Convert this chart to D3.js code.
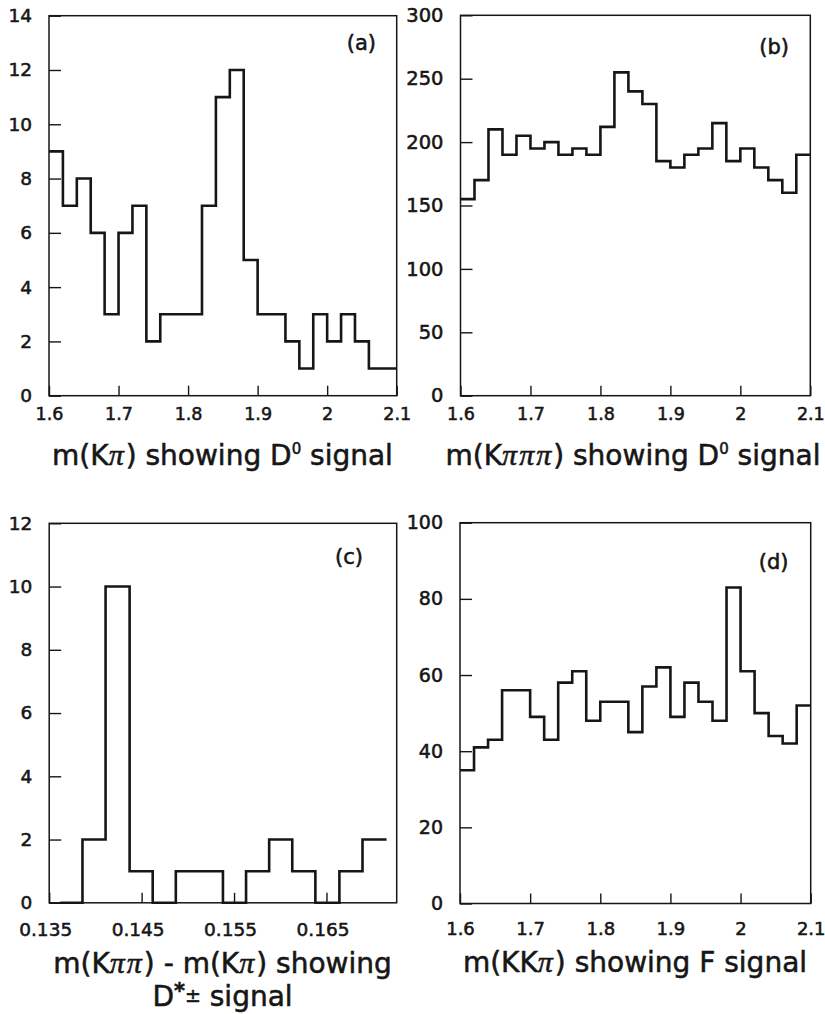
<!DOCTYPE html>
<html><head><meta charset="utf-8">
<script src="https://cdn.jsdelivr.net/npm/d3@7"></script>
<style>body{margin:0;background:#fff} svg{display:block} text{stroke:#161616;stroke-width:0.55px;paint-order:stroke}</style>
</head><body>
<svg id="chart" width="825" height="1014"></svg>
<script>
// ---- data ----
const massEdges = [1.60,1.62,1.64,1.66,1.68,1.70,1.72,1.74,1.76,1.78,1.80,1.82,1.84,1.86,1.88,1.90,1.92,1.94,1.96,1.98,2.00,2.02,2.04,2.06,2.08,2.10];
const kpiCounts   = [9,7,8,6,3,6,7,2,3,3,3,7,11,12,5,3,3,2,1,3,2,3,2,1,1];
const k3piCounts  = [155,170,210,190,205,195,200,190,195,190,212,255,240,230,185,180,190,195,215,185,195,180,170,160,190];
const kkpiCounts  = [35,41,43,56,56,49,43,58,61,48,53,53,45,57,62,49,58,53,48,83,61,50,44,42,52];
const dmEdges = [0.1362,0.1386,0.1411,0.1437,0.1462,0.1487,0.1512,0.1538,0.1563,0.1588,0.1613,0.1638,0.1664,0.1689,0.1715];
const dmCounts = [0,2,10,1,0,1,1,0,1,2,1,0,1,2];

const massTicks = [1.6,1.7,1.8,1.9,2.0,2.1];
const massTickLabels = ["1.6","1.7","1.8","1.9","2","2.1"];
const dmTicks = [0.135,0.145,0.155,0.165];
const dmTickLabels = ["0.135","0.145","0.155","0.165"];
const yTicksA = [0,2,4,6,8,10,12,14];
const yTicksB = [0,50,100,150,200,250,300];
const yTicksC = [0,2,4,6,8,10,12];
const yTicksD = [0,20,40,60,80,100];
const panelLabels = ["(a)","(b)","(c)","(d)"];

const INK = "#161616";
const FONT = "DejaVu Sans";
const svg = d3.select("#chart");

function panel(p){
  const x = d3.scaleLinear().domain(p.xDomain).range([p.left, p.right]);
  const y = d3.scaleLinear().domain([0, p.yMax]).range([p.bottom, p.top]);
  const g = svg.append("g");

  const ya = g.append("g").attr("transform", `translate(${p.left},0)`)
    .call(d3.axisLeft(y).tickValues(p.yTicks).tickFormat(d3.format("d"))
      .tickSizeInner(-12).tickSizeOuter(0).tickPadding(17));
  ya.select(".domain").remove();
  ya.attr("font-family", FONT).attr("font-size", p.yFont);
  ya.selectAll("line").attr("stroke", INK).attr("stroke-width", 1.4);
  ya.selectAll("text").attr("fill", INK);

  const xa = g.append("g").attr("transform", `translate(0,${p.bottom})`)
    .call(d3.axisBottom(x).tickValues(p.xTicks).tickFormat((d,i)=>p.xLabels[i])
      .tickSizeInner(-10).tickSizeOuter(0).tickPadding(p.xPad));
  xa.select(".domain").remove();
  xa.attr("font-family", FONT).attr("font-size", p.xFont);
  xa.selectAll("line").attr("stroke", INK).attr("stroke-width", 1.4);
  xa.selectAll("text").attr("fill", INK).attr("dx", p.xdx || 0);

  g.append("rect").attr("x", p.left).attr("y", p.top)
    .attr("width", p.right - p.left).attr("height", p.bottom - p.top)
    .attr("fill", "none").attr("stroke", INK).attr("stroke-width", 1.5);

  const pts = p.counts.map((c,i)=>[p.edges[i], c]);
  pts.push([p.edges[p.edges.length-1], p.counts[p.counts.length-1]]);
  const line = d3.line().x(d=>x(d[0])).y(d=>y(d[1])).curve(d3.curveStepAfter);
  g.append("path").attr("d", line(pts)).attr("fill","none")
    .attr("stroke", INK).attr("stroke-width", 2.6).attr("stroke-linejoin","miter");

  g.append("text").attr("x", p.labX).attr("y", p.labY).attr("text-anchor","end")
    .attr("font-family", FONT).attr("font-size", 21).attr("fill", INK).text(p.label);
  return g;
}

function title(x, y, parts){
  const t = svg.append("text").attr("x", x).attr("y", y).attr("text-anchor","middle")
    .attr("font-family", FONT).attr("font-size", 28).attr("fill", INK);
  parts.forEach(pt=>{
    const s = t.append("tspan").text(pt.t);
    if (pt.dy) s.attr("dy", pt.dy);
    if (pt.size) s.attr("font-size", pt.size);
    if (pt.pi) s.attr("font-family","Liberation Serif").attr("font-style","italic")
      .attr("font-size", 30).attr("letter-spacing", 2);
    if (pt.bold) s.attr("font-weight","bold");
  });
}

panel({left:49, right:396.7, top:15.7, bottom:395.7, xDomain:[1.6,2.1], yMax:14,
  yTicks:yTicksA, xTicks:massTicks, xLabels:massTickLabels, edges:massEdges, counts:kpiCounts,
  yFont:18.5, xFont:17.5, xPad:12, label:panelLabels[0], labX:376, labY:50});
panel({left:460.5, right:810.3, top:15.3, bottom:395.7, xDomain:[1.6,2.1], yMax:300,
  yTicks:yTicksB, xTicks:massTicks, xLabels:massTickLabels, edges:massEdges, counts:k3piCounts,
  yFont:19.5, xFont:17.5, xPad:12, label:panelLabels[1], labX:789, labY:54});
panel({left:49.2, right:396.7, top:523.3, bottom:902.8, xDomain:[0.135,0.1726], yMax:12,
  yTicks:yTicksC, xTicks:dmTicks, xLabels:dmTickLabels, edges:dmEdges, counts:dmCounts,
  yFont:18.5, xFont:18.5, xPad:20, xdx:-4, label:panelLabels[2], labX:363, labY:564});
panel({left:460, right:810.7, top:522.7, bottom:903.5, xDomain:[1.6,2.1], yMax:100,
  yTicks:yTicksD, xTicks:massTicks, xLabels:massTickLabels, edges:massEdges, counts:kkpiCounts,
  yFont:19, xFont:18, xPad:19, label:panelLabels[3], labX:788.5, labY:569});

title(222.5, 465, [{t:"m(K"},{t:"π",pi:true},{t:") showing D"},{t:"0",size:15,dy:-11},{t:" signal",dy:11}]);
title(633, 465, [{t:"m(K"},{t:"πππ",pi:true},{t:") showing D"},{t:"0",size:15,dy:-11},{t:" signal",dy:11}]);
title(222.5, 973, [{t:"m(K"},{t:"ππ",pi:true},{t:") - m(K"},{t:"π",pi:true},{t:") showing"}]);
title(222.5, 1006, [{t:"D"},{t:"*",size:21,bold:true,dy:-8},{t:"±",size:19,dy:4},{t:" signal",dy:4}]);
title(635, 971.5, [{t:"m(KK"},{t:"π",pi:true},{t:") showing F signal"}]);
</script>
</body></html>
